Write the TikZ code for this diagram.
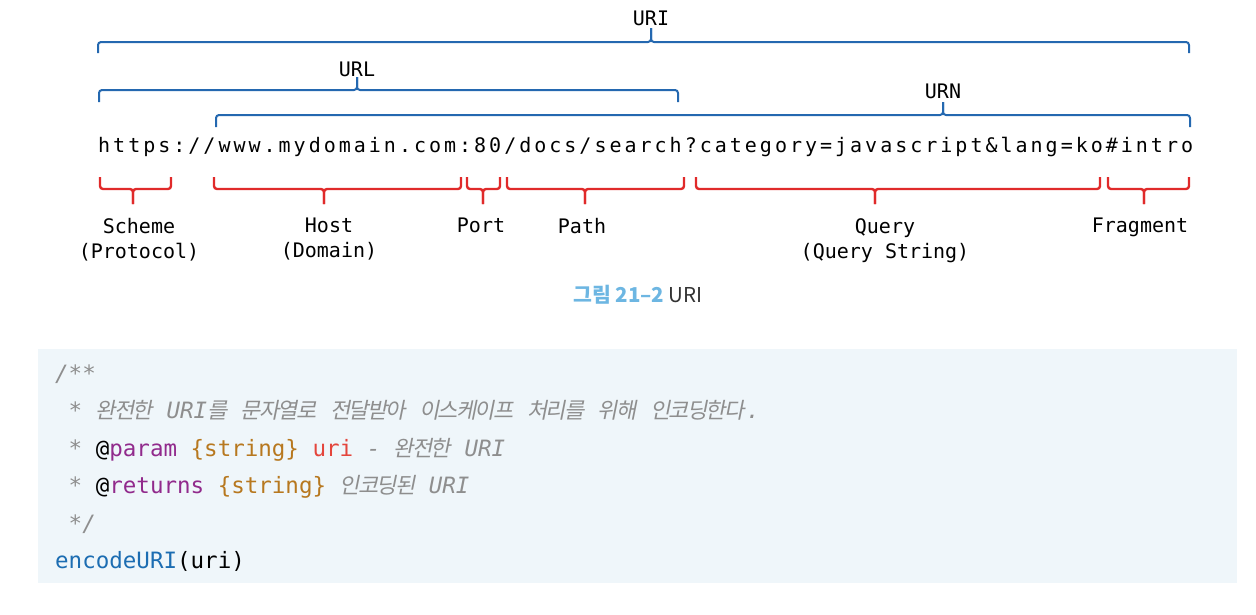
\documentclass[tikz,border=0pt]{standalone}
\usepackage{fontspec}
\setmonofont{DejaVu Sans Mono}
\newfontfamily\spacedmono{DejaVu Sans Mono}[LetterSpace=15]
\newfontfamily\krfont{Noto Sans CJK KR}
\newfontfamily\krslant{Noto Sans CJK KR}[FakeSlant=0.2, LetterSpace=-8]
\usetikzlibrary{positioning}

\definecolor{braceblue}{HTML}{2468B0}
\definecolor{bracered}{HTML}{E02A2A}
\definecolor{codebg}{HTML}{EFF6FA}
\definecolor{cmtgray}{HTML}{8E8E8E}
\definecolor{kwpurple}{HTML}{912A8C}
\definecolor{typebrown}{HTML}{B7781F}
\definecolor{argred}{HTML}{E4453C}
\definecolor{fnblue}{HTML}{1C6DB2}
\definecolor{capblue}{HTML}{6DB6E2}
\definecolor{capgray}{HTML}{333333}

\tikzset{
  blbrace/.style={draw=braceblue, line width=2pt},
  rdbrace/.style={draw=bracered, line width=2.4pt},
  toplabel/.style={font=\ttfamily\fontsize{20}{25}\selectfont, inner sep=0pt, anchor=base},
  partlabel/.style={font=\ttfamily\fontsize{20}{25}\selectfont, inner sep=0pt, anchor=north, align=center},
  codeline/.style={font=\ttfamily\fontsize{22.5}{28}\selectfont, inner sep=0pt, anchor=base west},
}

% brace: style, left x, right x, tip x, line y, end length, tip length
\newcommand{\brc}[7]{%
  \draw[#1, rounded corners=3pt] ({#2},{#5+(#6)}) -- ({#2},{#5}) -- ({#4},{#5}) -- ({#4},{#5+(#7)});
  \draw[#1, rounded corners=3pt] ({#4},{#5+(#7)}) -- ({#4},{#5}) -- ({#3},{#5}) -- ({#3},{#5+(#6)});}
\newcommand{\cmt}[1]{{\color{cmtgray}\itshape #1}}
\newcommand{\ko}[1]{{\krslant\fontsize{22}{28}\selectfont #1}}

\begin{document}
\begin{tikzpicture}[x=1pt, y=-1pt]
\useasboundingbox (0,0) rectangle (1256,614);

% the address and its parts
\node[inner sep=0pt, anchor=base west] (addr) at (98,152)
  {\spacedmono\fontsize{20}{25}\selectfont https://www.mydomain.com:80/docs/search?category=javascript\&lang=ko\#intro};

\node[toplabel] (uri) at (651,25) {URI};
\node[toplabel] (url) at (357,76) {URL};
\node[toplabel] (urn) at (943,98) {URN};
\brc{blbrace}{98}{1189}{651}{42}{11}{-14}
\brc{blbrace}{99}{678}{357}{90}{12}{-13}
\brc{blbrace}{216}{1190}{943}{115}{12}{-13}

\brc{rdbrace}{100}{171}{133}{189}{-12}{15}
\brc{rdbrace}{214}{461}{324}{189}{-12}{15}
\brc{rdbrace}{467}{500}{483}{189}{-12}{15}
\brc{rdbrace}{507}{684}{585}{189}{-12}{15}
\brc{rdbrace}{696}{1100}{875}{189}{-12}{15}
\brc{rdbrace}{1108}{1189}{1144}{189}{-12}{15}

\node[partlabel] (scheme) at (139,218) {Scheme\\(Protocol)};
\node[partlabel] (host) at (329,218) {Host\\(Domain)};
\node[partlabel] (port) at (481,218) {Port};
\node[partlabel] (path) at (582,218) {Path};
\node[partlabel] (query) at (885,218) {Query\\(Query String)};
\node[partlabel] (fragment) at (1140,218) {Fragment};

% caption
\node[inner sep=0pt, anchor=base west] (caption) at (573,302)
  {\krfont\fontsize{20.5}{24}\selectfont{\bfseries\color{capblue}그림 21–2} {\color{capgray}URI}};

% code sample
\fill[codebg] (38,349) rectangle (1237,583);
\node[codeline] (line1) at (55,381) {\cmt{/**}};
\node[codeline] (line2) at (55,418.5) {\ \cmt{* \ko{완전한} URI\ko{를} \ko{문자열로} \ko{전달받아} \ko{이스케이프} \ko{처리를} \ko{위해} \ko{인코딩한다}\kern2pt.}};
\node[codeline] (line3) at (55,456) {\ \cmt{*} @\textcolor{kwpurple}{param} \textcolor{typebrown}{\{string\}} \textcolor{argred}{uri} \cmt{- \ko{완전한} URI}};
\node[codeline] (line4) at (55,493.5) {\ \cmt{*} @\textcolor{kwpurple}{returns} \textcolor{typebrown}{\{string\}} \cmt{\ko{인코딩된} URI}};
\node[codeline] (line5) at (55,531) {\ \cmt{*/}};
\node[codeline] (line6) at (55,568) {\textcolor{fnblue}{encodeURI}(uri)};
\end{tikzpicture}
\end{document}
